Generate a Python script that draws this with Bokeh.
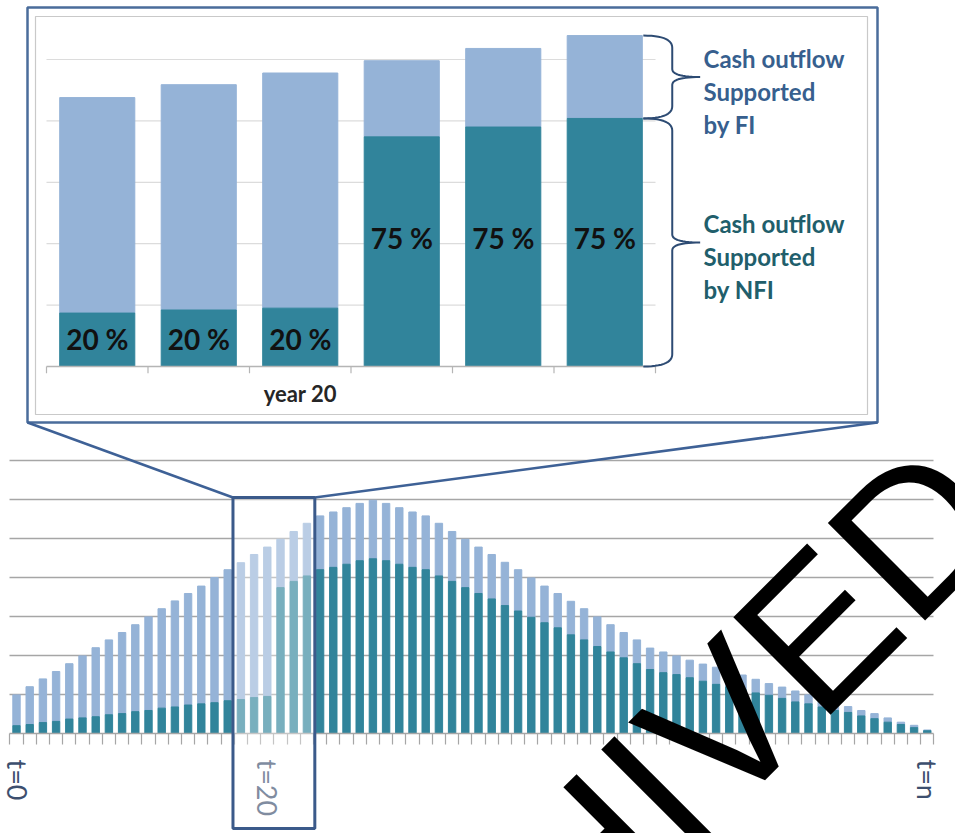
import math
import numpy as np
from bokeh.plotting import figure
from bokeh.models import Range1d, FixedTicker, Grid, ColumnDataSource
from bokeh.core.properties import value
from bokeh.embed import file_html
from bokeh.resources import INLINE

# ---------------- data ----------------
periods = list(range(70))  # t = 0 ... t = n
total_outflow = [0.99, 1.20, 1.40, 1.59, 1.79, 1.99, 2.20, 2.40, 2.59, 2.79,
                 2.99, 3.20, 3.40, 3.59, 3.78, 4.00, 4.20, 4.38, 4.59, 4.78,
                 4.98, 5.18, 5.39, 5.58, 5.68, 5.79, 5.90, 5.98, 5.90, 5.79,
                 5.68, 5.58, 5.39, 5.18, 4.98, 4.78, 4.59, 4.39, 4.20, 3.99,
                 3.78, 3.59, 3.39, 3.20, 2.99, 2.79, 2.59, 2.40, 2.19, 2.09,
                 1.99, 1.88, 1.78, 1.70, 1.60, 1.50, 1.39, 1.28, 1.19, 1.09,
                 0.99, 0.88, 0.78, 0.69, 0.59, 0.51, 0.40, 0.29, 0.21, 0.09]
nfi_outflow = [0.20, 0.23, 0.28, 0.31, 0.37, 0.40, 0.43, 0.48, 0.51, 0.56,
               0.59, 0.65, 0.68, 0.73, 0.76, 0.79, 0.84, 0.87, 0.92, 0.95,
               3.74, 3.90, 4.04, 4.20, 4.26, 4.34, 4.43, 4.48, 4.43, 4.34,
               4.26, 4.20, 4.04, 3.90, 3.74, 3.59, 3.45, 3.28, 3.14, 2.98,
               2.84, 2.71, 2.53, 2.40, 2.23, 2.09, 1.94, 1.79, 1.64, 1.56,
               1.51, 1.43, 1.34, 1.26, 1.20, 1.12, 1.04, 0.98, 0.90, 0.81,
               0.76, 0.68, 0.59, 0.54, 0.45, 0.38, 0.29, 0.23, 0.15, 0.07]
axis_tick_labels = {0: "t=0", 19: "t=20", 69: "t=n"}
grid_values = [1, 2, 3, 4, 5, 6, 7]
zoom_first, zoom_last = 17, 22          # periods shown in the magnified panel
inset_pct_labels = ["20 %", "20 %", "20 %", "75 %", "75 %", "75 %"]
inset_category_label = "year 20"
inset_category_pos = 2
inset_grid_values = [1, 2, 3, 4, 5]
fi_text = ["Cash outflow", "Supported", "by FI"]
nfi_text = ["Cash outflow", "Supported", "by NFI"]
watermark_text = "ARCHIVED"

# ---------------- style / layout ----------------
W, H = 955, 833
FRAME_H = 733
LIGHT = "#95b3d7"
TEAL = "#31849b"
GRID = "#a6a6a6"
NAVY = "#3b5a8a"
FONT = "Lato"

BAR0, STEP, UNIT = 16.0, 13.2, 39.0          # main chart pixel geometry
IN_LEFT, IN_STEP, IN_BASE, IN_UNIT = 46.0, 101.5, 366.0, 61.4  # inset geometry


def main_x(px):
    return (px - BAR0) / STEP


def main_y(py):
    return (FRAME_H - py) / UNIT


p = figure(width=W, height=H, title=None,
           x_range=Range1d(main_x(0), main_x(W)),
           y_range=Range1d(0, FRAME_H / UNIT),
           y_axis_location=None, x_axis_location="below",
           output_backend="svg", toolbar_location=None,
           min_border_left=0, min_border_right=0, min_border_top=0,
           min_border_bottom=H - FRAME_H)
p.outline_line_color = None
p.background_fill_color = "white"
p.border_fill_color = "white"
for g in list(p.center):
    if isinstance(g, Grid):
        g.visible = False

p.extra_x_ranges = {
    "ix": Range1d((0 - IN_LEFT) / IN_STEP - 0.5, (W - IN_LEFT) / IN_STEP - 0.5),
    "px": Range1d(0, W),
}
p.extra_y_ranges = {
    "iy": Range1d((IN_BASE - FRAME_H) / IN_UNIT, IN_BASE / IN_UNIT),
    "py": Range1d(FRAME_H, 0),
}

# ---------------- main chart ----------------
ygrid = Grid(dimension=1, ticker=FixedTicker(ticks=grid_values),
             grid_line_color=GRID, grid_line_width=1.3)
if "cross_bounds" in Grid.properties():
    ygrid.cross_bounds = (-0.5, len(periods) - 0.5)
p.add_layout(ygrid)

src = ColumnDataSource(dict(t=periods, total=total_outflow, nfi=nfi_outflow))
p.vbar(x="t", bottom="nfi", top="total", width=0.56, color=LIGHT, source=src)
p.vbar(x="t", bottom=0, top="nfi", width=0.56, color=TEAL, source=src)

ax = p.xaxis[0]
ax.ticker = FixedTicker(ticks=list(axis_tick_labels.keys()),
                        minor_ticks=[k - 0.5 for k in range(len(periods) + 1)])
ax.bounds = (-0.5, len(periods) - 0.5)
ax.major_label_overrides = dict(axis_tick_labels)
ax.major_tick_line_color = None
ax.major_tick_out = 0
ax.major_tick_in = 0
ax.minor_tick_out = 11
ax.minor_tick_in = 0
ax.minor_tick_line_color = GRID
ax.minor_tick_line_width = 1.2
ax.axis_line_color = GRID
ax.axis_line_width = 1.3
ax.major_label_orientation = -math.pi / 2
ax.major_label_standoff = 15
ax.major_label_text_font = FONT
ax.major_label_text_font_size = "27px"
ax.major_label_text_color = "#3d4f6e"

# ---------------- inset (magnified years) ----------------
p.quad(left=[27], right=[877], top=[7], bottom=[422], fill_color="white",
       line_color="#4a6c9b", line_width=2.5, x_range_name="px", y_range_name="py")
p.quad(left=[35], right=[867], top=[16], bottom=[414], fill_color=None,
       line_color="#c9c9c9", line_width=1.2, x_range_name="px", y_range_name="py")

n_in = zoom_last - zoom_first + 1
cats = list(range(n_in))
p.segment(x0=[-0.5] * len(inset_grid_values), x1=[n_in - 0.5] * len(inset_grid_values),
          y0=inset_grid_values, y1=inset_grid_values, line_color="#dcdcdc",
          line_width=1.2, x_range_name="ix", y_range_name="iy")

isrc = ColumnDataSource(dict(
    c=cats,
    total=total_outflow[zoom_first:zoom_last + 1],
    nfi=nfi_outflow[zoom_first:zoom_last + 1],
    lab=inset_pct_labels,
    ly=[0.45 if s.startswith("20") else 2.1 for s in inset_pct_labels],
))
p.vbar(x="c", bottom="nfi", top="total", width=0.74, color=LIGHT, source=isrc,
       x_range_name="ix", y_range_name="iy")
p.vbar(x="c", bottom=0, top="nfi", width=0.74, color=TEAL, source=isrc,
       x_range_name="ix", y_range_name="iy")
p.text(x="c", y="ly", text="lab", source=isrc, text_font=value(FONT),
       text_font_style="bold", text_font_size="28px", text_color="#111111",
       text_align="center", text_baseline="middle",
       x_range_name="ix", y_range_name="iy")

p.segment(x0=[-0.5], x1=[n_in - 0.5], y0=[0], y1=[0], line_color="#b5b5b5",
          line_width=1.3, x_range_name="ix", y_range_name="iy")
tb = [k - 0.5 for k in range(n_in + 1)]
p.segment(x0=tb, x1=tb, y0=[0] * len(tb), y1=[-0.11] * len(tb),
          line_color="#b5b5b5", line_width=1.2, x_range_name="ix", y_range_name="iy")
p.text(x=[inset_category_pos], y=[-0.44], text=[inset_category_label],
       text_font=value(FONT), text_font_style="bold", text_font_size="22px",
       text_color="#262626", text_align="center", text_baseline="middle",
       x_range_name="ix", y_range_name="iy")


def brace(x_hook, x_spine, x_tip, y_top, y_bot, r, rt):
    t = np.linspace(0, 1, 14)

    def q(p0, p1, p2):
        xs = (1 - t) ** 2 * p0[0] + 2 * (1 - t) * t * p1[0] + t ** 2 * p2[0]
        ys = (1 - t) ** 2 * p0[1] + 2 * (1 - t) * t * p1[1] + t ** 2 * p2[1]
        return list(xs), list(ys)

    ym = (y_top + y_bot) / 2
    parts = [
        q((x_hook, y_top), (x_spine, y_top), (x_spine, y_top - r)),
        q((x_spine, ym + rt), (x_spine, ym), (x_tip, ym)),
        q((x_tip, ym), (x_spine, ym), (x_spine, ym - rt)),
        q((x_spine, y_bot + r), (x_spine, y_bot), (x_hook, y_bot)),
    ]
    xs, ys = [], []
    for a, b in parts:
        xs += a
        ys += b
    return xs, ys


last = n_in - 1
bx_hook, bx_spine, bx_tip = last + 0.38, last + 0.665, last + 0.94
b1 = brace(bx_hook, bx_spine, bx_tip, isrc.data["total"][last], isrc.data["nfi"][last], 0.2, 0.13)
b2 = brace(bx_hook, bx_spine, bx_tip, isrc.data["nfi"][last], 0, 0.2, 0.13)
p.multi_line(xs=[b1[0], b2[0]], ys=[b1[1], b2[1]], line_color="#2d4b73",
             line_width=2, x_range_name="ix", y_range_name="iy")

p.text(x=[703] * 3, y=[58, 91, 124], text=fi_text, text_font=value(FONT),
       text_font_style="bold", text_font_size="24px", text_color="#375f8e",
       text_align="left", text_baseline="middle", x_range_name="px", y_range_name="py")
p.text(x=[703] * 3, y=[223, 256, 289], text=nfi_text, text_font=value(FONT),
       text_font_style="bold", text_font_size="24px", text_color="#215e6b",
       text_align="left", text_baseline="middle", x_range_name="px", y_range_name="py")

# ---------------- zoom box + connectors ----------------
box_l, box_r = zoom_first - 0.6, zoom_last + 0.6
box_t, box_b = main_y(497), main_y(828)
p.segment(x0=[main_x(27), main_x(877)], y0=[main_y(422), main_y(422)],
          x1=[box_l, box_r], y1=[box_t, box_t], line_color="#3e6196",
          line_width=2.5, level="overlay")
p.quad(left=[box_l], right=[box_r], top=[box_t], bottom=[box_b],
       fill_color="white", fill_alpha=0.35, line_color=NAVY, line_width=3,
       level="overlay")

# ---------------- watermark ----------------
p.text(x=[main_x(235.1)], y=[main_y(1210.9)], text=[watermark_text],
       angle=math.pi / 4, text_font=value("Liberation Sans"),
       text_font_size="200px", text_color="black",
       text_align="left", text_baseline="alphabetic", level="overlay")

open("out.html", "w").write(file_html(p, INLINE))
